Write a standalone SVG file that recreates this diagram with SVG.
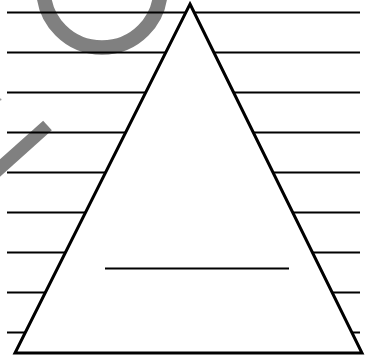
<svg xmlns="http://www.w3.org/2000/svg" width="365" height="356" viewBox="0 0 365 356">
<style>
.gray{fill:none;stroke:#808080}
.rule{stroke:#000;stroke-width:2}
.tri{fill:#fff;stroke:#000;stroke-width:3;stroke-linejoin:miter}
</style>
<rect width="365" height="356" fill="#fff"/>
<g id="decor">
<circle class="gray" cx="102" cy="-11" r="58.5" stroke-width="14.5"/>
<line class="gray" x1="47.5" y1="125.5" x2="-20" y2="186" stroke-width="13"/>
<circle cx="0.5" cy="99.5" r="1" fill="#999"/>
</g>
<g id="rules">
<line class="rule" x1="7" y1="12.5" x2="360" y2="12.5"/>
<line class="rule" x1="7" y1="52.5" x2="360" y2="52.5"/>
<line class="rule" x1="7" y1="92.5" x2="360" y2="92.5"/>
<line class="rule" x1="7" y1="132.5" x2="360" y2="132.5"/>
<line class="rule" x1="7" y1="172.5" x2="360" y2="172.5"/>
<line class="rule" x1="7" y1="212.5" x2="360" y2="212.5"/>
<line class="rule" x1="7" y1="252.5" x2="360" y2="252.5"/>
<line class="rule" x1="7" y1="292.5" x2="360" y2="292.5"/>
<line class="rule" x1="7" y1="332.5" x2="360" y2="332.5"/>
</g>
<g id="triangle">
<polygon class="tri" points="190,4 362,353 15,353"/>
<line class="rule" x1="105" y1="268.5" x2="289" y2="268.5"/>
</g>
</svg>
